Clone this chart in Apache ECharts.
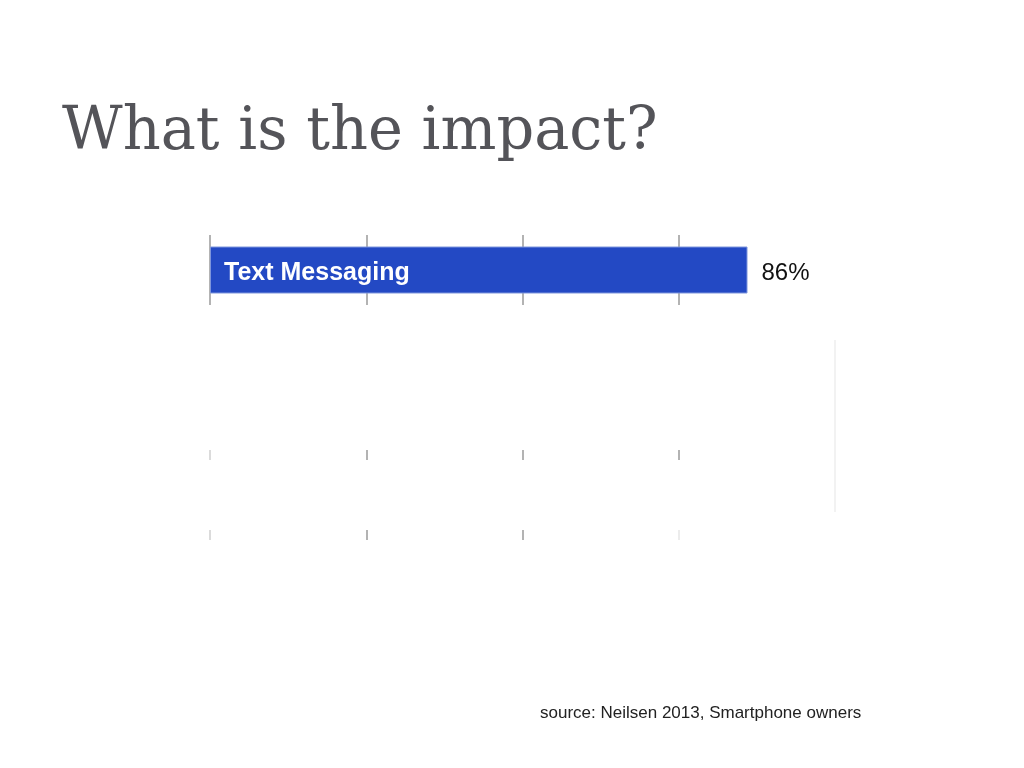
<!DOCTYPE html>
<html>
<head>
<meta charset="utf-8">
<script src="https://cdn.jsdelivr.net/npm/echarts@6/dist/echarts.min.js"></script>
<style>
  html, body { margin: 0; padding: 0; background: #fff; }
  #chart { width: 1024px; height: 768px; }
</style>
</head>
<body>
<div id="chart"></div>
<script>
var categories = ['Text Messaging'];
var shares = [86];
var tickStep = 25;

var chart = echarts.init(document.getElementById('chart'));

var sans = "'Liberation Sans', Arial, sans-serif";
var gray = '#9a9a9a';
var none = 'rgba(0,0,0,0)';
// gridline segments as they appear on the slide
var segments = [
    { top: 235, height: 70, colors: [gray, gray, gray, gray, none] },
    { top: 340, height: 172, colors: [none, none, none, none, '#eeeeee'] },
    { top: 450, height: 10, colors: ['#cfcfcf', gray, gray, gray, none] },
    { top: 530, height: 10, colors: ['#cfcfcf', gray, gray, '#e6e6e6', none] }
];

var grids = [], xAxes = [], yAxes = [];
segments.forEach(function(s, i){
    grids.push({ left: 210, width: 625, top: s.top, height: s.height });
    xAxes.push({
        gridIndex: i, type: 'value', min: 0, max: 100, interval: tickStep,
        axisLine: { show: false }, axisTick: { show: false }, axisLabel: { show: false },
        splitLine: { show: true, lineStyle: { color: s.colors, width: 1.5 } }
    });
    yAxes.push({
        gridIndex: i, type: 'category', data: i === 0 ? categories : [''],
        axisLine: { show: false }, axisTick: { show: false },
        axisLabel: { show: false }
    });
});

yAxes[0].z = 10;
yAxes[0].axisLabel = {
    show: true, inside: true, margin: 14,
    formatter: function(v){ return '{n|' + v + '}'; },
    rich: {
        n: { padding: [7, 0, 0, 0], color: '#ffffff', fontFamily: sans, fontWeight: 'bold', fontSize: 25 }
    }
};

var option = {
    animation: false,
    title: [{
        text: 'What is the impact?',
        left: 57, top: 99,
        textStyle: { fontFamily: "'DejaVu Serif', serif", fontWeight: 'normal', fontSize: 59, color: '#545459' }
    }, {
        text: 'source: Neilsen 2013, Smartphone owners',
        left: 535, top: 700,
        textStyle: { fontFamily: sans, fontWeight: 'normal', fontSize: 17, color: '#222222' }
    }],
    grid: grids,
    xAxis: xAxes,
    yAxis: yAxes,
    series: [{
        type: 'bar',
        xAxisIndex: 0, yAxisIndex: 0,
        data: shares,
        barWidth: 47,
        itemStyle: { color: '#2349c4', borderColor: '#7f96dc', borderWidth: 1 },
        label: {
            show: true, position: 'right', distance: 14,
            offset: [0, 3],
            formatter: '{c}%',
            color: '#111111', fontFamily: sans, fontSize: 24
        }
    }]
};

chart.setOption(option);
</script>
</body>
</html>
